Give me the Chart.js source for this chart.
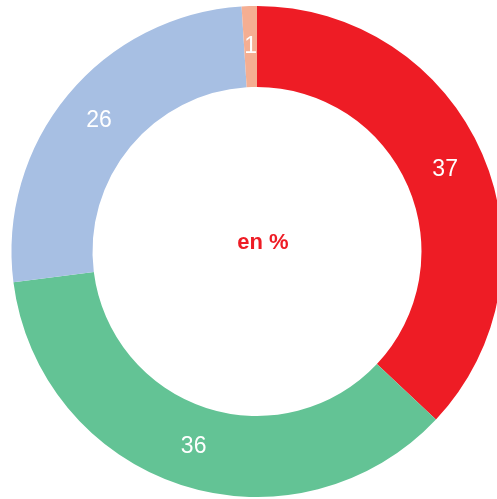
<!DOCTYPE html>
<html>
<head>
<meta charset="utf-8">
<script src="https://cdn.jsdelivr.net/npm/chart.js@4"></script>
<style>
  html, body { margin: 0; padding: 0; background: #fff; overflow: hidden; }
  #wrap { position: absolute; left: 0; top: 6px; width: 514px; height: 491px; }
</style>
</head>
<body>
<div id="wrap"><canvas id="myChart"></canvas></div>
<script>
var labels = ["A", "B", "C", "D"];
var values = [37, 36, 26, 1];
var colors = ["#EE1C25", "#63C395", "#A7BFE3", "#F5AE92"];
var centerText = "en %";

// draws the value on each slice and the text in the hole
var sliceLabels = {
	id: "sliceLabels",
	afterDatasetsDraw: function (chart) {
		var ctx = chart.ctx;
		var meta = chart.getDatasetMeta(0);
		ctx.save();
		ctx.textAlign = "center";
		ctx.textBaseline = "middle";
		ctx.fillStyle = "#ffffff";
		ctx.font = "23px 'Liberation Sans', Arial, sans-serif";
		for (var i = 0; i < meta.data.length; i++) {
			var p = meta.data[i].tooltipPosition();
			ctx.fillText(values[i], p.x, p.y);
		}
		var area = chart.chartArea;
		ctx.fillStyle = "#EE1C25";
		ctx.font = "bold 22px 'Liberation Sans', Arial, sans-serif";
		ctx.fillText(centerText, (area.left + area.right) / 2 + 6, (area.top + area.bottom) / 2 - 9);
		ctx.restore();
	}
};

new Chart("myChart", {
	type: "doughnut",
	data: {
		labels: labels,
		datasets: [{
			data: values,
			backgroundColor: colors,
			borderWidth: 0
		}]
	},
	options: {
		responsive: true,
		maintainAspectRatio: false,
		animation: false,
		cutout: "67%",
		layout: { padding: 0 },
		plugins: {
			legend: { display: false },
			tooltip: { enabled: false }
		}
	},
	plugins: [sliceLabels]
});
</script>
</body>
</html>
